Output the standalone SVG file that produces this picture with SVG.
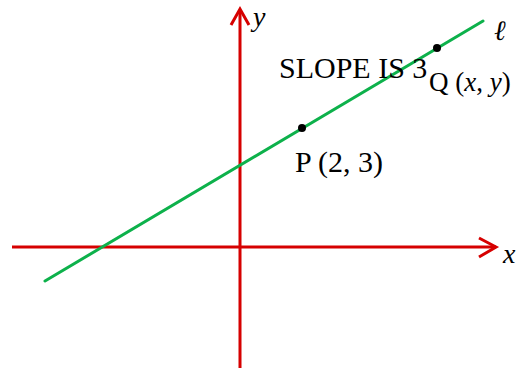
<svg xmlns="http://www.w3.org/2000/svg" width="518" height="369" viewBox="0 0 518 369">
<style>
.axis{stroke:#d60000;stroke-width:3;fill:none}
.line{stroke:#0db14b;stroke-width:3;fill:none;stroke-linecap:round}
.t{font-family:"Liberation Serif","Times New Roman",serif;font-size:30px;fill:#000}
.q{font-size:27px}
.lab{font-size:28px}
.i{font-style:italic}
</style>
<rect width="518" height="369" fill="#fff"/>
<g id="connectors">
<g id="x-axis">
<line class="axis" x1="12" y1="247" x2="496" y2="247"/>
<polyline class="axis" points="479,238 496,247 479,257"/>
</g>
<g id="y-axis">
<line class="axis" x1="240" y1="368" x2="240" y2="10"/>
<polyline class="axis" points="231,25 240,9 249,25"/>
</g>
<line id="line-l" class="line" x1="45" y1="281" x2="483" y2="21"/>
</g>
<g id="P">
<circle cx="302" cy="128" r="4" fill="#000"/>
<text class="t" x="295" y="172">P (2, 3)</text>
</g>
<g id="Q">
<circle cx="437" cy="48" r="4" fill="#000"/>
<text class="t q" x="429" y="91">Q (<tspan class="i">x</tspan>, <tspan class="i">y</tspan>)</text>
</g>
<g id="slope">
<text class="t" x="279" y="78">SLOPE IS 3</text>
</g>
<g id="labels">
<text class="t i lab" x="253" y="26">y</text>
<text class="t i lab" x="503" y="263">x</text>
<text class="t i lab" x="494" y="40">ℓ</text>
</g>
</svg>
